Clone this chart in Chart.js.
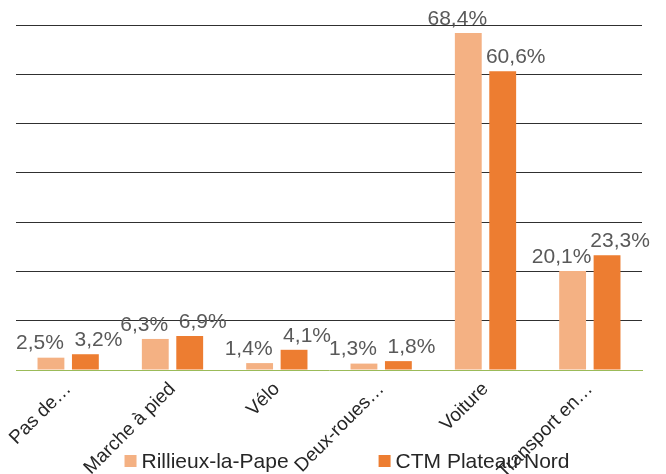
<!DOCTYPE html>
<html>
<head>
<meta charset="utf-8">
<script src="https://cdn.jsdelivr.net/npm/chart.js@4/dist/chart.umd.min.js"></script>
<style>
  html, body { margin: 0; padding: 0; background: #fff; }
  #wrap { width: 666px; height: 474px; position: relative; }
</style>
</head>
<body>
<div id="wrap"><canvas id="graphe"></canvas></div>
<script>
// Parts modales des déplacements
const categories = ['Pas de…', 'Marche à pied', 'Vélo', 'Deux-roues…', 'Voiture', 'Transport en…'];
const rillieux = [2.5, 6.3, 1.4, 1.3, 68.4, 20.1];
const ctmPlateauNord = [3.2, 6.9, 4.1, 1.8, 60.6, 23.3];
const series = ['Rillieux-la-Pape', 'CTM Plateau Nord'];

const couleurs = ['#F4B183', '#ED7D31'];
const police = 'Arial, "Liberation Sans", sans-serif';

// étiquettes de valeur au-dessus des barres (format français)
const etiquettes = {
    id: 'etiquettes',
    afterDatasetsDraw(chart) {
        const ctx = chart.ctx;
        const decalages = [-11, 13];
        ctx.save();
        ctx.font = '21px ' + police;
        ctx.fillStyle = '#595959';
        ctx.textAlign = 'center';
        ctx.textBaseline = 'middle';
        chart.data.datasets.forEach((ds, i) => {
            chart.getDatasetMeta(i).data.forEach((barre, j) => {
                const txt = ds.data[j].toFixed(1).replace('.', ',') + '%';
                ctx.fillText(txt, barre.x + decalages[i], barre.y - 14);
            });
        });
        ctx.restore();
    }
};

// légende dessinée en bas, par-dessus les libellés de l'axe
const legende = {
    id: 'legende',
    afterDraw(chart) {
        const ctx = chart.ctx;
        ctx.save();
        ctx.font = '21px ' + police;
        ctx.textBaseline = 'middle';
        const carre = 12, espace = 5, ecart = 90, y = 461;
        const largeurs = series.map(s => carre + espace + ctx.measureText(s).width);
        const total = largeurs.reduce((a, b) => a + b, 0) + ecart;
        let x = 347 - total / 2;
        series.forEach((s, i) => {
            ctx.fillStyle = couleurs[i];
            ctx.fillRect(x, y - carre / 2, carre, carre);
            ctx.fillStyle = '#262626';
            ctx.fillText(s, x + carre + espace, y + 1);
            x += largeurs[i] + ecart;
        });
        ctx.restore();
    }
};

new Chart(document.getElementById('graphe'), {
    type: 'bar',
    data: {
        labels: categories,
        datasets: [
            { label: series[0], data: rillieux, backgroundColor: couleurs[0] },
            { label: series[1], data: ctmPlateauNord, backgroundColor: couleurs[1] }
        ]
    },
    options: {
        responsive: true,
        maintainAspectRatio: false,
        animation: false,
        layout: { padding: { left: 16, right: 24, top: 25, bottom: 0 } },
        datasets: { bar: { categoryPercentage: 0.66, barPercentage: 0.78 } },
        plugins: {
            legend: { display: false },
            tooltip: { enabled: false }
        },
        scales: {
            x: {
                grid: { display: false },
                border: { display: true, color: '#9BBB59', width: 1 },
                ticks: {
                    minRotation: 45,
                    maxRotation: 45,
                    autoSkip: false,
                    color: '#262626',
                    font: { size: 19, family: police },
                    padding: 0
                },
                afterFit(scale) { scale.height = 104; }
            },
            y: {
                min: 0,
                max: 70,
                ticks: { display: false, stepSize: 10 },
                border: { display: false },
                grid: {
                    drawTicks: false,
                    color: ctx => ctx.tick && ctx.tick.value === 0 ? 'rgba(0,0,0,0)' : '#303030',
                    lineWidth: 1
                },
                afterFit(scale) { scale.width = 0; }
            }
        }
    },
    plugins: [etiquettes, legende]
});
</script>
</body>
</html>
